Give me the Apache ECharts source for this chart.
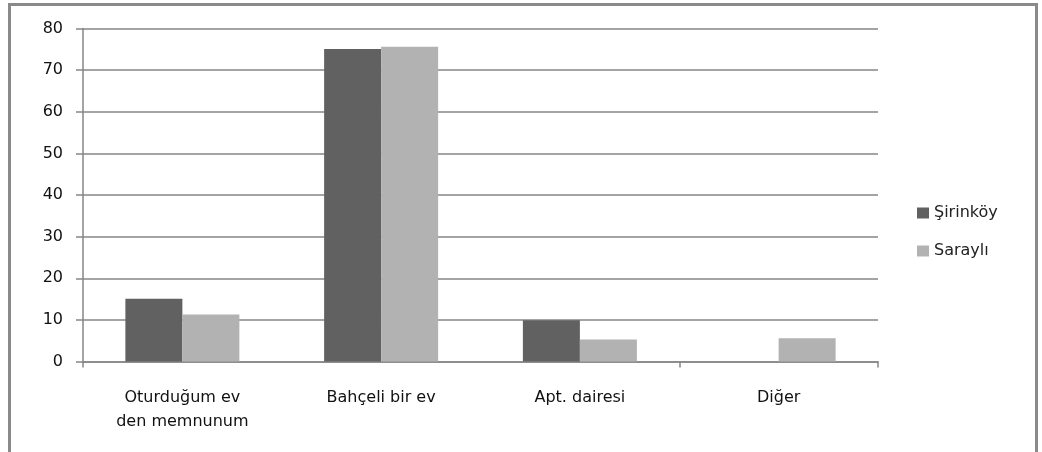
<!DOCTYPE html>
<html><head><meta charset="utf-8">
<script src="https://cdn.jsdelivr.net/npm/echarts@6/dist/echarts.min.js"></script>
<style>html,body{margin:0;padding:0;background:#fff}#c{width:1042px;height:452px}</style>
</head><body><div id="c"></div>
<script>
const categories = ["Oturduğum ev\nden memnunum", "Bahçeli bir ev", "Apt. dairesi", "Diğer"];
const seriesNames = ["Şirinköy", "Saraylı"];
const sirinkoy = [15.1, 75.1, 9.9, 0];
const sarayli = [11.3, 75.6, 5.3, 5.6];
const yTicks = [0, 10, 20, 30, 40, 50, 60, 70, 80];

const font = "DejaVu Sans";
const chart = echarts.init(document.getElementById('c'), null, {renderer: 'canvas'});
chart.setOption({
  animation: false,
  backgroundColor: '#fff',
  graphic: [{
    type: 'rect', shape: {x: 9.5, y: 4.5, width: 1027, height: 460},
    style: {fill: 'none', stroke: '#8a8a8a', lineWidth: 3}, z: 100
  }],
  grid: {left: 83, top: 28.5, width: 795, height: 333},
  legend: {
    orient: 'vertical', left: 912, top: 200, itemWidth: 12, itemHeight: 11, itemGap: 22,
    icon: 'rect', data: seriesNames,
    textStyle: {fontFamily: font, fontSize: 16, color: '#222'}
  },
  xAxis: {
    type: 'category', data: categories,
    axisLine: {lineStyle: {color: '#868686', width: 1.5}},
    axisTick: {show: true, alignWithLabel: false, length: 6,
      interval: (i) => i === 0 || i === 3,
      lineStyle: {color: '#868686', width: 1.5}},
    axisLabel: {fontFamily: font, fontSize: 16, color: '#111', margin: 24, lineHeight: 24, interval: 0}
  },
  yAxis: {
    type: 'value', min: 0, max: 80, interval: 10,
    axisLine: {show: true, lineStyle: {color: '#868686', width: 1.5}},
    axisTick: {show: true, length: 7, lineStyle: {color: '#868686', width: 1.5}},
    splitLine: {lineStyle: {color: '#868686', width: 1.5}},
    axisLabel: {fontFamily: font, fontSize: 16, color: '#111', margin: 20,
      formatter: v => yTicks.includes(v) ? String(v) : ''}
  },
  series: [
    {name: seriesNames[0], type: 'bar', data: sirinkoy, barWidth: 57, barGap: '0%', itemStyle: {color: '#616161'}},
    {name: seriesNames[1], type: 'bar', data: sarayli, barWidth: 57, barGap: '0%', itemStyle: {color: '#b2b2b2'}}
  ]
});
</script></body></html>
